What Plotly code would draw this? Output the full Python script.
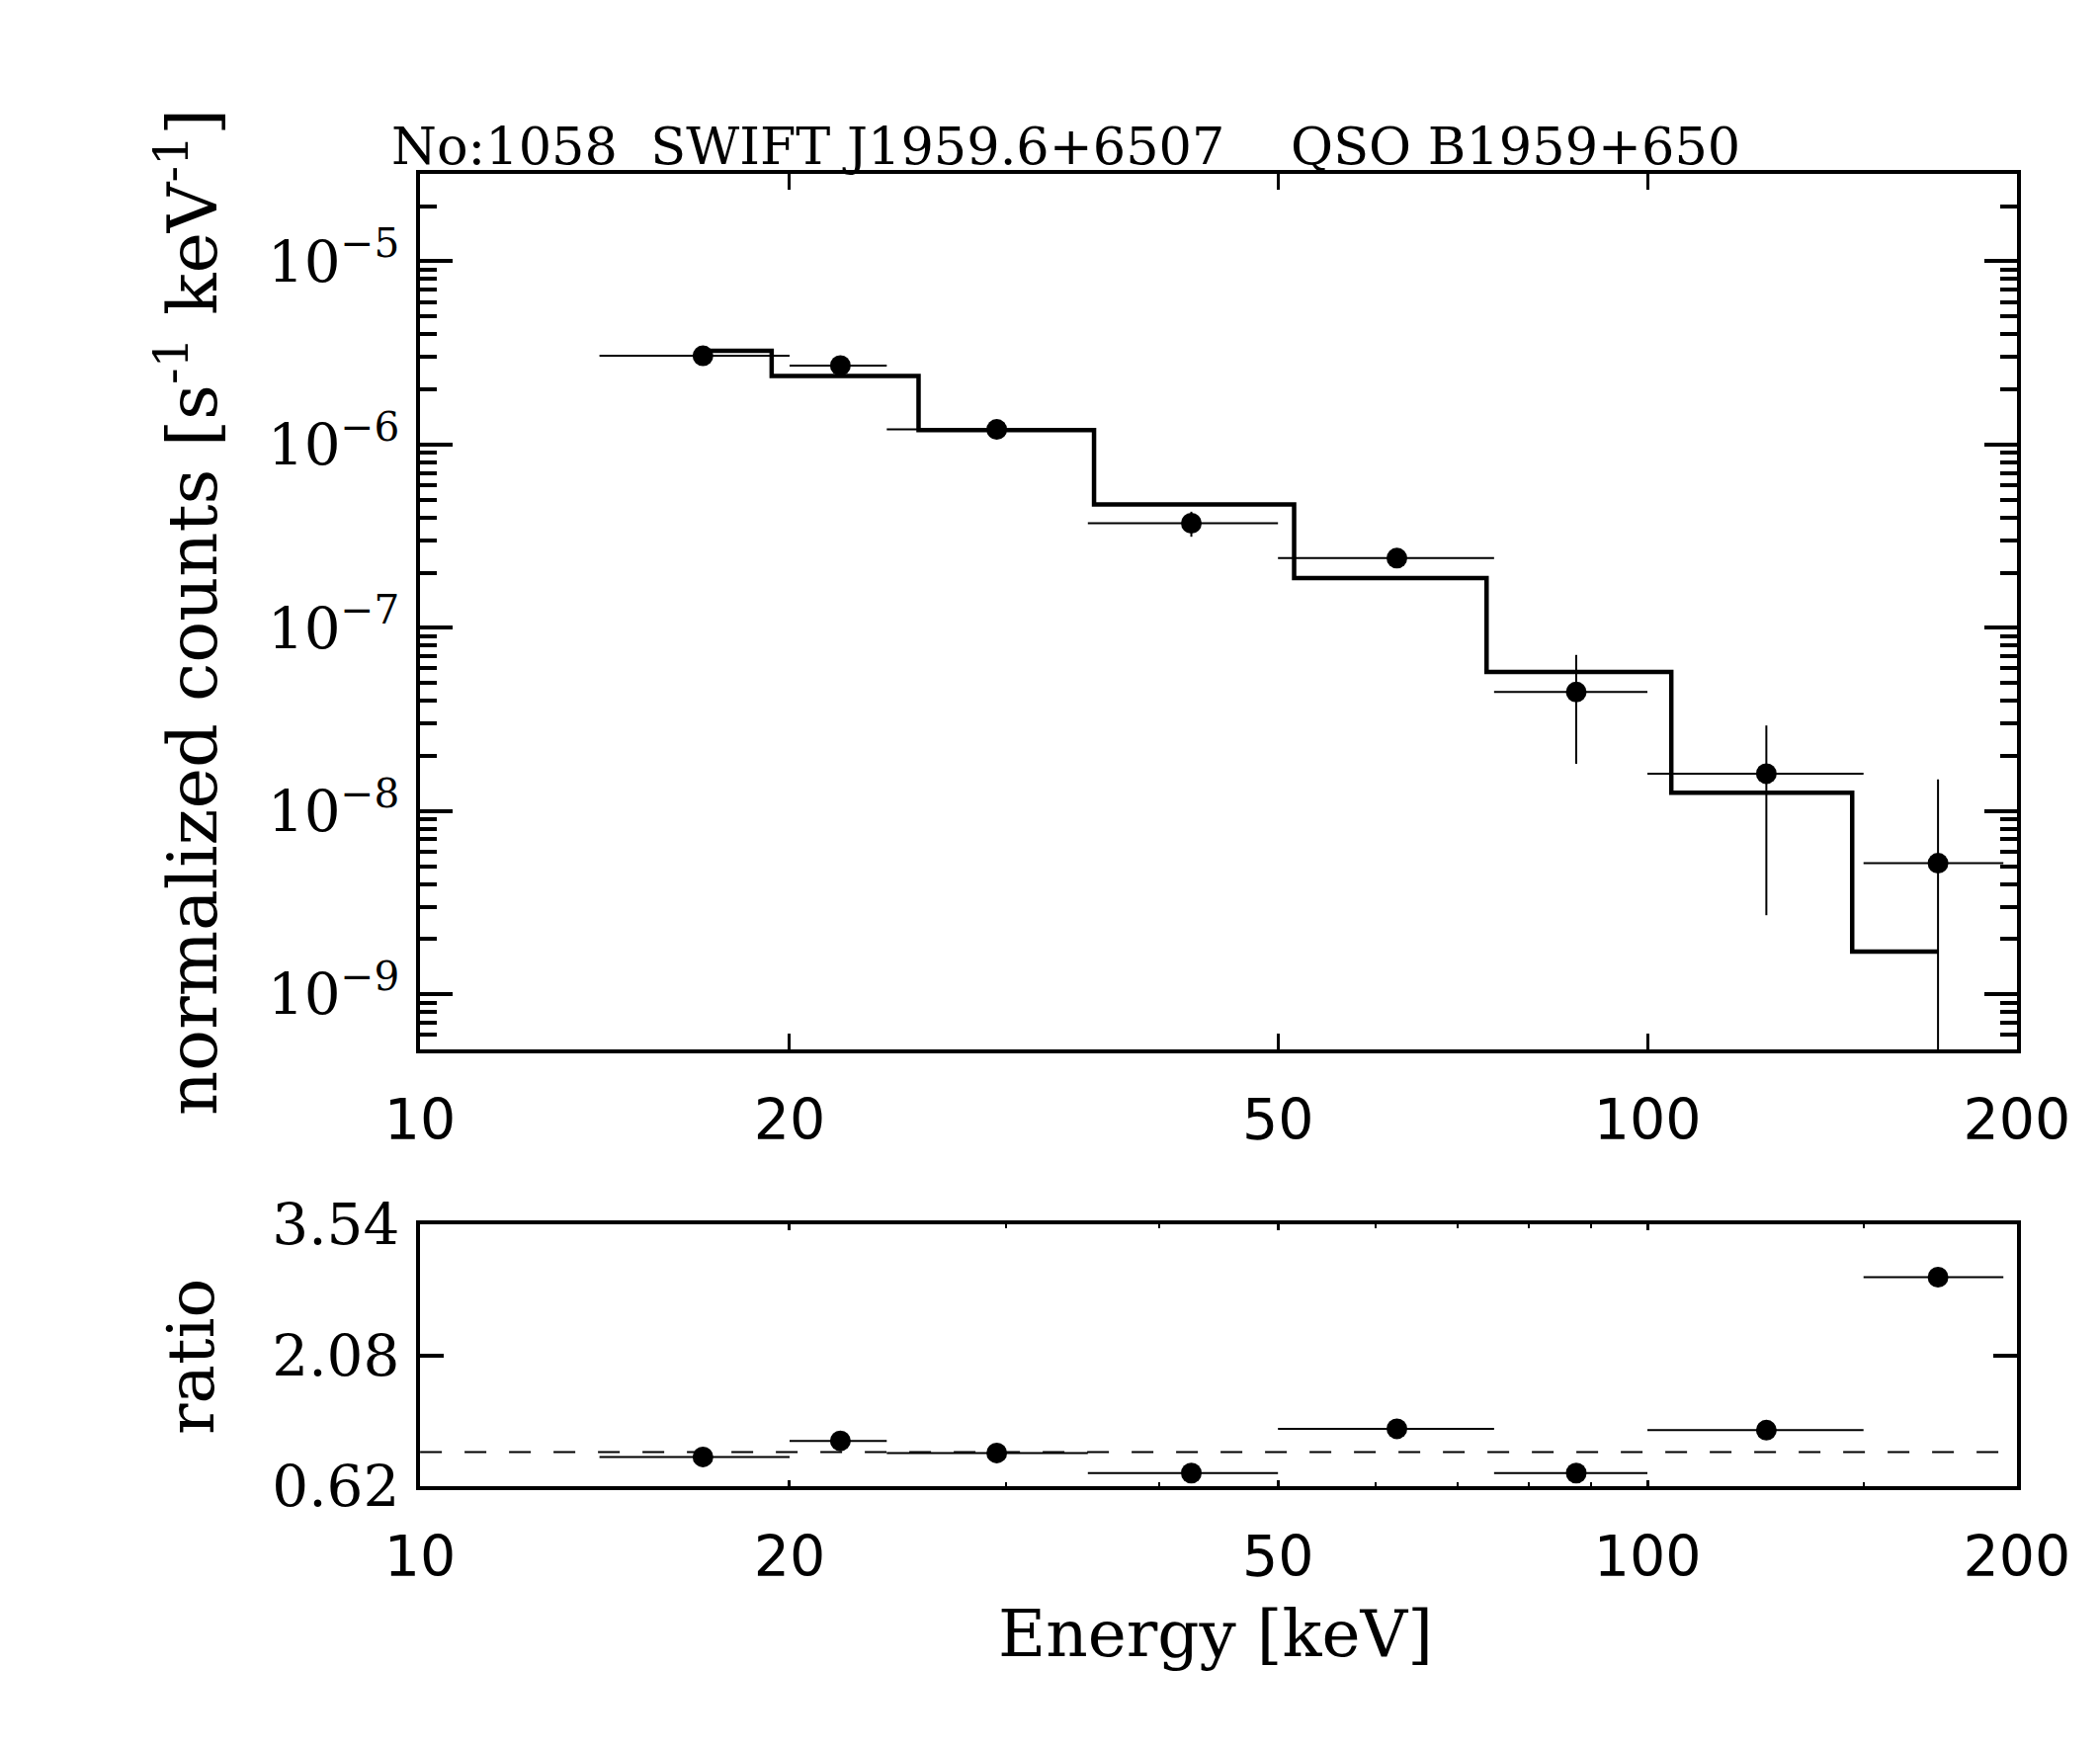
import plotly.graph_objects as go
import math

# ---------------- data ----------------
e_lo = [14, 20, 24, 35, 50, 75, 100, 150]
e_hi = [20, 24, 35, 50, 75, 100, 150, 195]
e_mid = [17, 22, 29.5, 42.5, 62.5, 87.5, 125, 172.5]
counts = [3.05e-6, 2.70e-6, 1.21e-6, 3.72e-7, 2.40e-7, 4.46e-8, 1.60e-8, 5.19e-9]
counts_err = [1.0e-7, 1.3e-7, 5.0e-8, 5.8e-8, 2.7e-8, 2.65e-8, 1.33e-8, 9.7e-9]
model = [3.25e-6, 2.37e-6, 1.20e-6, 4.71e-7, 1.87e-7, 5.75e-8, 1.26e-8, 1.71e-9]
ratio = [0.946, 1.125, 0.99, 0.766, 1.26, 0.766, 1.244, 2.95]
ratio_ref = 1.0

x_ticks = [10, 20, 50, 100, 200]
x_ticktext = ["10", "20", "50", "100", "200"]
x_minor = [30, 40, 60, 70, 80, 90, 150]
y_ticks = [1e-9, 1e-8, 1e-7, 1e-6, 1e-5]
y_ticktext = ["10<sup>\u22129</sup>", "10<sup>\u22128</sup>", "10<sup>\u22127</sup>",
              "10<sup>\u22126</sup>", "10<sup>\u22125</sup>"]
y_minor = [m * 10.0 ** p for p in range(-10, -4) for m in range(2, 10)]
ratio_ticks = [0.62, 2.08, 3.54]
ratio_ticktext = ["0.62", "2.08", "3.54"]

x_range = [10, 200]
y_range = [5e-10, 3e-5]
ratio_range = [0.62, 3.54]

title_text = "No:1058\u00a0\u00a0SWIFT J1959.6+6507\u00a0\u00a0\u00a0\u00a0QSO B1959+650"

# ---------------- figure ----------------
OFF = 8  # page body margin
W, H = 2125 - OFF, 1771 - OFF
L, R, T, B = 425, 2041, 176, 1504   # plot-area edges in page pixels
pw, ph = R - L, B - T

def xp(px):
    return (px - L) / pw

def yp(py):
    return (B - py) / ph

top_dom = [yp(1062), 1.0]
bot_dom = [0.0, yp(1239)]

xerr_plus = [h - m for h, m in zip(e_hi, e_mid)]
xerr_minus = [m - l for m, l in zip(e_mid, e_lo)]

fig = go.Figure()

# model histogram (top)
fig.add_trace(go.Scatter(
    x=e_mid, y=model, mode="lines", line=dict(color="black", width=4.5, shape="hvh"),
    xaxis="x", yaxis="y", hoverinfo="skip", showlegend=False))

# data points (top)
fig.add_trace(go.Scatter(
    x=e_mid, y=counts, mode="markers",
    marker=dict(color="black", size=21),
    error_x=dict(type="data", array=xerr_plus, arrayminus=xerr_minus,
                 color="black", thickness=2, width=0),
    error_y=dict(type="data", array=counts_err, color="black", thickness=2, width=0),
    xaxis="x", yaxis="y", showlegend=False))

# ratio reference line (bottom)
fig.add_trace(go.Scatter(
    x=x_range, y=[ratio_ref, ratio_ref], mode="lines",
    line=dict(color="black", width=2, dash="22px,23px"),
    xaxis="x2", yaxis="y2", hoverinfo="skip", showlegend=False))

# ratio points (bottom)
fig.add_trace(go.Scatter(
    x=e_mid, y=ratio, mode="markers",
    marker=dict(color="black", size=21),
    error_x=dict(type="data", array=xerr_plus, arrayminus=xerr_minus,
                 color="black", thickness=2, width=0),
    xaxis="x2", yaxis="y2", showlegend=False))

lx = [math.log10(x_range[0]) - 1e-4, math.log10(x_range[1]) + 1e-4]
ly = [math.log10(y_range[0]), math.log10(y_range[1])]

tick_font_x = dict(family="DejaVu Sans", size=57, color="black")
tick_font_y = dict(family="DejaVu Serif", size=58, color="black")

axis_common = dict(showline=True, linecolor="black", linewidth=4, mirror="ticks",
                   showgrid=False, zeroline=False, ticks="inside", tickcolor="black")

fig.update_layout(
    width=W, height=H, autosize=False,
    margin=dict(l=L - OFF, r=(W + OFF) - R, t=T - OFF, b=(H + OFF) - B, pad=0),
    paper_bgcolor="white", plot_bgcolor="white",
    showlegend=False,
    xaxis=dict(type="log", range=lx, domain=[0, 1], anchor="y",
               tickmode="array", tickvals=x_ticks, ticktext=x_ticktext,
               ticklen=16, tickwidth=3, tickfont=tick_font_x, ticklabelstandoff=19,
               **axis_common),
    yaxis=dict(type="log", range=ly, domain=top_dom, anchor="x",
               tickmode="array", tickvals=y_ticks, ticktext=y_ticktext,
               ticklen=33, tickwidth=4, tickfont=tick_font_y, ticklabelstandoff=5,
               minor=dict(tickmode="array", tickvals=y_minor, ticks="inside",
                          ticklen=17, tickwidth=4, tickcolor="black", showgrid=False),
               **axis_common),
    xaxis2=dict(type="log", range=lx, domain=[0, 1], anchor="y2",
                tickmode="array", tickvals=x_ticks, ticktext=x_ticktext,
                ticklen=6, tickwidth=3, tickfont=tick_font_x, ticklabelstandoff=19,
                minor=dict(tickmode="array", tickvals=x_minor, ticks="inside",
                           ticklen=4, tickwidth=2, tickcolor="black", showgrid=False),
                **axis_common),
    yaxis2=dict(range=ratio_range, domain=bot_dom, anchor="x2",
                tickmode="array", tickvals=ratio_ticks, ticktext=ratio_ticktext,
                ticklen=24, tickwidth=4, tickfont=tick_font_y, ticklabelstandoff=5,
                **axis_common),
)

fig.add_annotation(text=title_text, xref="paper", yref="paper",
                   x=xp(394), y=yp(148), xanchor="left", yanchor="middle",
                   showarrow=False, font=dict(family="DejaVu Serif", size=52.5, color="black"))
fig.add_annotation(text="normalized counts [s<sup>-1</sup> keV<sup>-1</sup>]",
                   xref="paper", yref="paper", x=xp(190), y=yp(620),
                   xanchor="center", yanchor="middle", textangle=-90,
                   showarrow=False, font=dict(family="DejaVu Serif", size=70, color="black"))
fig.add_annotation(text="ratio", xref="paper", yref="paper", x=xp(193), y=yp(1373),
                   xanchor="center", yanchor="middle", textangle=-90,
                   showarrow=False, font=dict(family="DejaVu Serif", size=66, color="black"))
fig.add_annotation(text="Energy [keV]", xref="paper", yref="paper", x=xp(1230), y=yp(1653),
                   xanchor="center", yanchor="middle",
                   showarrow=False, font=dict(family="DejaVu Serif", size=66, color="black"))

fig.write_html("out.html", config={"displayModeBar": False})
